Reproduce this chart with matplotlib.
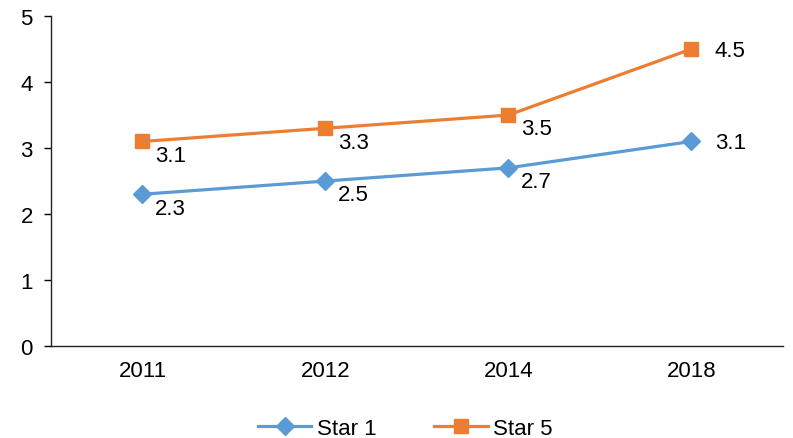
import matplotlib.pyplot as plt

years = ["2011", "2012", "2014", "2018"]
star1 = [2.3, 2.5, 2.7, 3.1]
star5 = [3.1, 3.3, 3.5, 4.5]

plt.rcParams['font.family'] = ['Liberation Sans', 'DejaVu Sans']
FS = 16

fig = plt.figure(figsize=(7.93, 4.39), dpi=100)
ax = fig.add_axes([0.0643, 0.2096, 0.9227, 0.7514])

x = list(range(len(years)))
ax.plot(x, star1, color="#5B9BD5", linewidth=2.3, marker="D", markersize=9,
        label="Star 1")
ax.plot(x, star5, color="#ED7D31", linewidth=2.3, marker="s", markersize=9.5,
        label="Star 5")

# data labels: lower right, last point to the right
for series in (star1, star5):
    for i, v in enumerate(series):
        if i == len(series) - 1:
            off = (17, -1)
        else:
            off = (9, -10)
        ax.annotate("{:.1f}".format(v), (i, v), textcoords="offset points",
                    xytext=off, ha="left", va="center", fontsize=FS)

ax.set_xlim(-0.5, 3.5)
ax.set_ylim(0, 5)
ax.set_xticks(x)
ax.set_xticklabels(years)
ax.set_yticks(range(6))
ax.tick_params(axis="x", length=0, pad=10, labelsize=FS)
ax.tick_params(axis="y", length=5, width=1, pad=8, labelsize=FS)

for s in ("top", "right"):
    ax.spines[s].set_visible(False)
for s in ("left", "bottom"):
    ax.spines[s].set_color("#222222")
    ax.spines[s].set_linewidth(1)

fig.legend(loc="center", bbox_to_anchor=(0.511, 0.022), ncol=2, frameon=False,
           fontsize=FS, handlelength=2.4, handletextpad=0.25, columnspacing=2.6,
           borderaxespad=0)

fig.savefig("out.png", dpi=100)
